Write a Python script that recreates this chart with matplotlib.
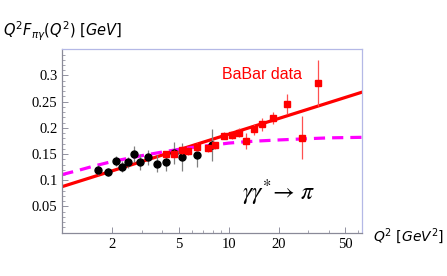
import numpy as np
import matplotlib
matplotlib.use("Agg")
import matplotlib.pyplot as plt

plt.rcParams['mathtext.fontset'] = 'stix'
plt.rcParams['font.family'] = ['Liberation Serif', 'DejaVu Serif']

# CLEO data (black circles)
cleo_q2 = [1.64, 1.89, 2.10, 2.27, 2.49, 2.69, 2.93, 3.27, 3.72, 4.19, 4.71, 5.25, 6.47, 7.90]
cleo_f = [0.120, 0.116, 0.137, 0.126, 0.134, 0.150, 0.135, 0.144, 0.132, 0.134, 0.153, 0.144, 0.148, 0.167]
cleo_err = [0.009, 0.008, 0.010, 0.010, 0.011, 0.015, 0.015, 0.014, 0.016, 0.016, 0.021, 0.027, 0.022, 0.030]

# BaBar data (red squares)
babar_q2 = [4.19, 4.71, 5.25, 5.73, 6.47, 7.5, 8.3, 9.4, 10.5, 11.6, 12.7, 14.2, 15.9, 18.4, 22.3, 27.4, 34.6]
babar_f = [0.150, 0.150, 0.158, 0.156, 0.164, 0.161, 0.167, 0.185, 0.186, 0.191, 0.1755, 0.197, 0.207, 0.219, 0.2456, 0.181, 0.286]
babar_err = [0.006, 0.007, 0.007, 0.007, 0.008, 0.007, 0.007, 0.007, 0.008, 0.008, 0.015, 0.010, 0.012, 0.012, 0.019, 0.041, 0.044]

# curves
fit_q2 = [1, 5, 10, 20, 63]
fit_f = [0.088, 0.158, 0.188, 0.218, 0.268]
model_q2 = [1, 1.25, 1.5, 2, 2.5, 3, 4, 5, 6.5, 8, 10, 12, 15, 20, 28, 40, 63]
model_f = [0.111, 0.119, 0.126, 0.136, 0.142, 0.147, 0.154, 0.159, 0.164, 0.167, 0.171, 0.173, 0.175, 0.177, 0.179, 0.181, 0.182]

fig = plt.figure(figsize=(4.47, 2.76), dpi=100)
ax = fig.add_axes([0.1394, 0.1569, 0.6698, 0.6645])

ax.plot(fit_q2, fit_f, color='#ff0000', lw=2.3, zorder=2)
ax.plot(model_q2, model_f, color='#ff00ff', lw=2.3, dashes=(3.5, 2.2), zorder=2)

ax.errorbar(cleo_q2, cleo_f, yerr=cleo_err, fmt='o', color='black', ms=5,
            ecolor='#808080', elinewidth=0.9, capsize=0, zorder=3)
ax.errorbar(babar_q2, babar_f, yerr=babar_err, fmt='s', color='#ff0000', ms=5,
            ecolor='#ff5050', elinewidth=0.9, capsize=0, zorder=4)

ax.set_xscale('log')
ax.set_xlim(1, 63)
ax.set_ylim(0, 0.35)
ax.set_xticks([2, 5, 10, 20, 50])
ax.set_xticklabels(['2', '5', '10', '20', '50'], fontsize=10.5)
ax.set_yticks([0.05, 0.1, 0.15, 0.2, 0.25, 0.3])
ax.set_yticklabels(['0.05', '0.1', '0.15', '0.2', '0.25', '0.3'], fontsize=10.5)
ax.set_yticks(np.arange(0.01, 0.35, 0.01), minor=True)
ax.tick_params(which='both', direction='in', color='#808090')
ax.tick_params(which='major', length=4, width=0.6)
ax.tick_params(which='minor', length=2, width=0.5)
ax.tick_params(axis='x', which='minor', labelbottom=False)

for s in ['left', 'bottom']:
    ax.spines[s].set_color('#8a8a98')
    ax.spines[s].set_linewidth(0.9)
for s in ['top', 'right']:
    ax.spines[s].set_color('#b4b8e6')
    ax.spines[s].set_linewidth(0.9)

ax.text(9.1, 0.301, 'BaBar data', color='#ff0000', fontsize=11.5,
        family='Liberation Sans', ha='left', va='center')
ax.text(12.0, 0.076, r'$\gamma\gamma^{*}\!\rightarrow\,\pi$', fontsize=17,
        ha='left', va='center')

fig.text(3 / 447, 1 - 31 / 276, r'$Q^2F_{\pi\gamma}(Q^2)\ [GeV]$',
         fontsize=10.5, ha='left', va='center', math_fontfamily='dejavusans')
fig.text(373 / 447, 1 - 236 / 276, r'$Q^2\ [GeV^2]$',
         fontsize=10, ha='left', va='center', math_fontfamily='dejavusans')

fig.savefig('out.png', dpi=100)
